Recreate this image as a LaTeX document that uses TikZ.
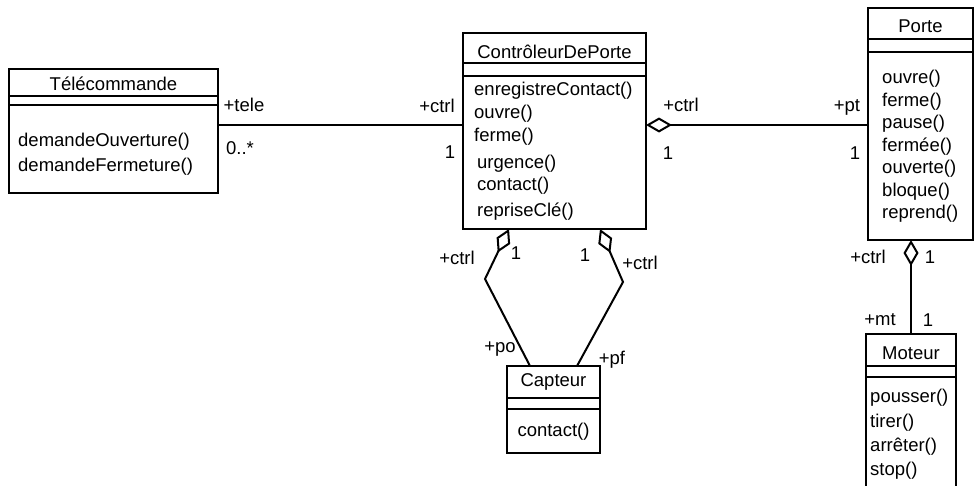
\documentclass[tikz,border=0pt]{standalone}
\usepackage{fontspec}
\setmainfont{Liberation Sans}
\usetikzlibrary{arrows.meta}
\begin{document}
\begin{tikzpicture}[x=1pt,y=-1pt,
  cls/.style={draw, line width=2.2pt, inner sep=0pt, outer sep=0pt, anchor=north west},
  sep/.style={line width=2.2pt},
  txt/.style={inner sep=0pt, anchor=west, font=\fontsize{18.5}{22}\selectfont},
  ttl/.style={inner sep=0pt, font=\fontsize{18.5}{22}\selectfont},
  lbl/.style={inner sep=0pt, font=\fontsize{18.5}{22}\selectfont},
  assoc/.style={line width=2pt},
  agg/.style={line width=2pt, {Diamond[open,length=26pt,width=15pt]}-}]
\useasboundingbox (0,0) rectangle (976,485);

% classes
\node[cls, minimum width=209pt, minimum height=124pt] (tele) at (9,69) {};
\node[cls, minimum width=183pt, minimum height=196pt] (ctrl) at (463,33) {};
\node[cls, minimum width=105pt, minimum height=232pt] (porte) at (868,8) {};
\node[cls, minimum width=90pt, minimum height=165pt] (moteur) at (866,334) {};
\node[cls, minimum width=93pt, minimum height=87pt] (capt) at (507,366) {};

% separators
\draw[sep] ([yshift=-27pt]tele.north west) -- ([yshift=-27pt]tele.north east);
\draw[sep] ([yshift=-36pt]tele.north west) -- ([yshift=-36pt]tele.north east);
\draw[sep] ([yshift=-30pt]ctrl.north west) -- ([yshift=-30pt]ctrl.north east);
\draw[sep] ([yshift=-43pt]ctrl.north west) -- ([yshift=-43pt]ctrl.north east);
\draw[sep] ([yshift=-31pt]porte.north west) -- ([yshift=-31pt]porte.north east);
\draw[sep] ([yshift=-44pt]porte.north west) -- ([yshift=-44pt]porte.north east);
\draw[sep] ([yshift=-32pt]moteur.north west) -- ([yshift=-32pt]moteur.north east);
\draw[sep] ([yshift=-43pt]moteur.north west) -- ([yshift=-43pt]moteur.north east);
\draw[sep] ([yshift=-32pt]capt.north west) -- ([yshift=-32pt]capt.north east);
\draw[sep] ([yshift=-43pt]capt.north west) -- ([yshift=-43pt]capt.north east);

% titles
\node[ttl] (teleT) at (113.5,84) {Télécommande};
\node[ttl] (ctrlT) at (554.5,52) {ContrôleurDePorte};
\node[ttl] (porteT) at (920.5,26) {Porte};
\node[ttl] (moteurT) at (911,353) {Moteur};
\node[ttl] (captT) at (553.5,382) {Capteur};

% methods
\node[txt] (t1) at (18,142) {demandeOuverture()};
\node[txt] (t2) at (18,167) {demandeFermeture()};

\node[txt] (c1) at (474,91) {enregistreContact()};
\node[txt] (c2) at (474,114) {ouvre()};
\node[txt] (c3) at (474,137) {ferme()};
\node[txt] (c4) at (477,164) {urgence()};
\node[txt] (c5) at (477,186) {contact()};
\node[txt] (c6) at (477,212) {repriseClé()};

\node[txt] (p1) at (882,79) {ouvre()};
\node[txt] (p2) at (882,101.5) {ferme()};
\node[txt] (p3) at (882,124) {pause()};
\node[txt] (p4) at (882,146.5) {fermée()};
\node[txt] (p5) at (882,169) {ouverte()};
\node[txt] (p6) at (882,191.5) {bloque()};
\node[txt] (p7) at (882,214) {reprend()};

\node[txt] (m1) at (870,398) {pousser()};
\node[txt] (m2) at (870,423) {tirer()};
\node[txt] (m3) at (870,447) {arrêter()};
\node[txt] (m4) at (870,471) {stop()};

\node[ttl] (k1) at (553.5,432) {contact()};

% connectors
\draw[assoc] ([yshift=6pt]tele.east) -- ([yshift=6pt]tele.east -| ctrl.west);
\draw[agg] ([yshift=6pt]ctrl.east) -- ([yshift=6pt]ctrl.east -| porte.west);
\draw[agg] (moteur.north |- porte.south) -- (moteur.north);
\coordinate (b1) at (485,279);
\coordinate (b2) at (623,282);
\draw[agg] ([xshift=-45.5pt]ctrl.south) -- (b1) -- ([xshift=-23.5pt]capt.north);
\draw[agg] ([xshift=45.5pt]ctrl.south) -- (b2) -- ([xshift=23.5pt]capt.north);

% role and multiplicity labels
\node[lbl] (l1) at (244,105) {+tele};
\node[lbl] (l2) at (240,148) {0..*};
\node[lbl] (l3) at (437,106) {+ctrl};
\node[lbl] (l4) at (450,152) {1};
\node[lbl] (l5) at (681,105) {+ctrl};
\node[lbl] (l6) at (668,153) {1};
\node[lbl] (l7) at (847,107) {+pt};
\node[lbl] (l8) at (855,153) {1};
\node[lbl] (l9) at (868,257) {+ctrl};
\node[lbl] (l10) at (930,257) {1};
\node[lbl] (l11) at (880,320) {+mt};
\node[lbl] (l12) at (928,320) {1};
\node[lbl] (l13) at (457,258) {+ctrl};
\node[lbl] (l14) at (516,253) {1};
\node[lbl] (l15) at (585,255) {1};
\node[lbl] (l16) at (640,263) {+ctrl};
\node[lbl] (l17) at (500,349) {+po};
\node[lbl] (l18) at (612,360) {+pf};
\end{tikzpicture}
\end{document}
